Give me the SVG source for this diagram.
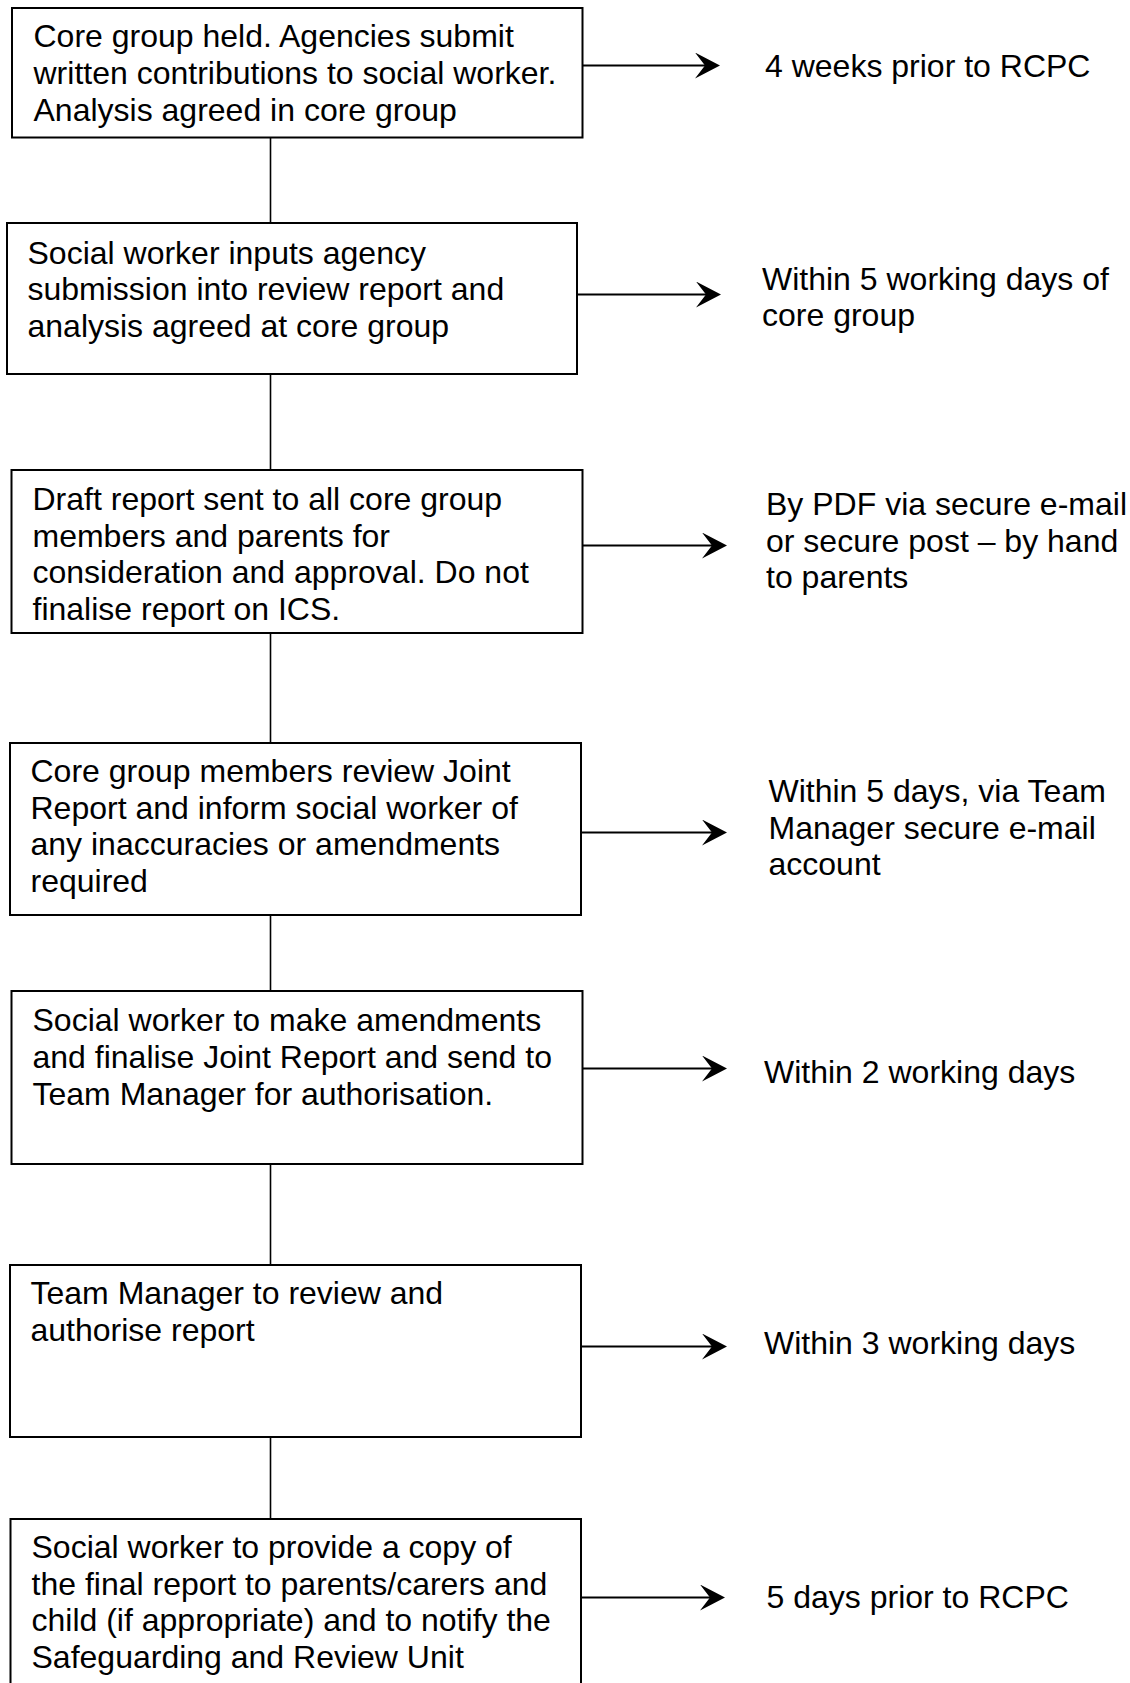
<svg xmlns="http://www.w3.org/2000/svg" width="1130" height="1683" viewBox="0 0 1130 1683">
<style>
.box{fill:#fff;stroke:#000;stroke-width:2}
.t{font-family:"Liberation Sans",Arial,sans-serif;font-size:32px;fill:#000}
.link{stroke:#000;stroke-width:1.6;fill:none}
.arr{stroke:#000;stroke-width:2;fill:none}
</style>
<defs>
<marker id="ah" markerUnits="userSpaceOnUse" viewBox="0 0 25 26" refX="13" refY="13" markerWidth="25" markerHeight="26" orient="auto">
<path d="M0,0 L25,13 L0,26 L10,13 Z" fill="#000"/>
</marker>
</defs>
<rect width="1130" height="1683" fill="#fff"/>
<g id="connectors">
<line class="link" x1="270.5" y1="137" x2="270.5" y2="223"/>
<line class="link" x1="270.5" y1="374" x2="270.5" y2="470"/>
<line class="link" x1="270.5" y1="633" x2="270.5" y2="743"/>
<line class="link" x1="270.5" y1="915" x2="270.5" y2="991"/>
<line class="link" x1="270.5" y1="1164" x2="270.5" y2="1265"/>
<line class="link" x1="270.5" y1="1437" x2="270.5" y2="1519"/>
<line class="arr" x1="582" y1="65.5" x2="708" y2="65.5" marker-end="url(#ah)"/>
<line class="arr" x1="577" y1="294.5" x2="709" y2="294.5" marker-end="url(#ah)"/>
<line class="arr" x1="582.5" y1="545.5" x2="715" y2="545.5" marker-end="url(#ah)"/>
<line class="arr" x1="581" y1="832.5" x2="715" y2="832.5" marker-end="url(#ah)"/>
<line class="arr" x1="582.5" y1="1068.5" x2="715" y2="1068.5" marker-end="url(#ah)"/>
<line class="arr" x1="581" y1="1346.5" x2="715" y2="1346.5" marker-end="url(#ah)"/>
<line class="arr" x1="581" y1="1597.5" x2="713" y2="1597.5" marker-end="url(#ah)"/>
</g>
<g id="node1">
<rect class="box" x="12" y="8" width="570.5" height="129.5"/>
<text class="t" x="33.5" y="47">Core group held. Agencies submit</text>
<text class="t" x="33.5" y="84">written contributions to social worker.</text>
<text class="t" x="33.5" y="121">Analysis agreed in core group</text>
</g>
<g id="node2">
<rect class="box" x="7" y="223" width="570" height="151"/>
<text class="t" x="27.5" y="263.5">Social worker inputs agency</text>
<text class="t" x="27.5" y="300">submission into review report and</text>
<text class="t" x="27.5" y="337">analysis agreed at core group</text>
</g>
<g id="node3">
<rect class="box" x="11.5" y="470" width="571" height="163"/>
<text class="t" x="32.5" y="509.5">Draft report sent to all core group</text>
<text class="t" x="32.5" y="546.5">members and parents for</text>
<text class="t" x="32.5" y="583">consideration and approval. Do not</text>
<text class="t" x="32.5" y="619.5">finalise report on ICS.</text>
</g>
<g id="node4">
<rect class="box" x="10" y="743" width="571" height="172"/>
<text class="t" x="30.5" y="782">Core group members review Joint</text>
<text class="t" x="30.5" y="818.5">Report and inform social worker of</text>
<text class="t" x="30.5" y="855">any inaccuracies or amendments</text>
<text class="t" x="30.5" y="892">required</text>
</g>
<g id="node5">
<rect class="box" x="11.5" y="991" width="571" height="173"/>
<text class="t" x="32.5" y="1031">Social worker to make amendments</text>
<text class="t" x="32.5" y="1067.5">and finalise Joint Report and send to</text>
<text class="t" x="32.5" y="1105">Team Manager for authorisation.</text>
</g>
<g id="node6">
<rect class="box" x="10" y="1265" width="571" height="172"/>
<text class="t" x="30.5" y="1304">Team Manager to review and</text>
<text class="t" x="30.5" y="1341">authorise report</text>
</g>
<g id="node7">
<rect class="box" x="10.5" y="1519" width="570.5" height="180"/>
<text class="t" x="31.5" y="1557.5">Social worker to provide a copy of</text>
<text class="t" x="31.5" y="1594.5">the final report to parents/carers and</text>
<text class="t" x="31.5" y="1631">child (if appropriate) and to notify the</text>
<text class="t" x="31.5" y="1667.5">Safeguarding and Review Unit</text>
</g>
<g id="label1"><text class="t" x="765" y="77">4 weeks prior to RCPC</text></g>
<g id="label2">
<text class="t" x="762" y="290">Within 5 working days of</text>
<text class="t" x="762" y="326">core group</text>
</g>
<g id="label3">
<text class="t" x="766" y="515">By PDF via secure e-mail</text>
<text class="t" x="766" y="551.5">or secure post – by hand</text>
<text class="t" x="766" y="588">to parents</text>
</g>
<g id="label4">
<text class="t" x="768.5" y="802">Within 5 days, via Team</text>
<text class="t" x="768.5" y="838.5">Manager secure e-mail</text>
<text class="t" x="768.5" y="875">account</text>
</g>
<g id="label5"><text class="t" x="764" y="1082.5">Within 2 working days</text></g>
<g id="label6"><text class="t" x="764" y="1354">Within 3 working days</text></g>
<g id="label7"><text class="t" x="766.5" y="1607.5">5 days prior to RCPC</text></g>
</svg>
